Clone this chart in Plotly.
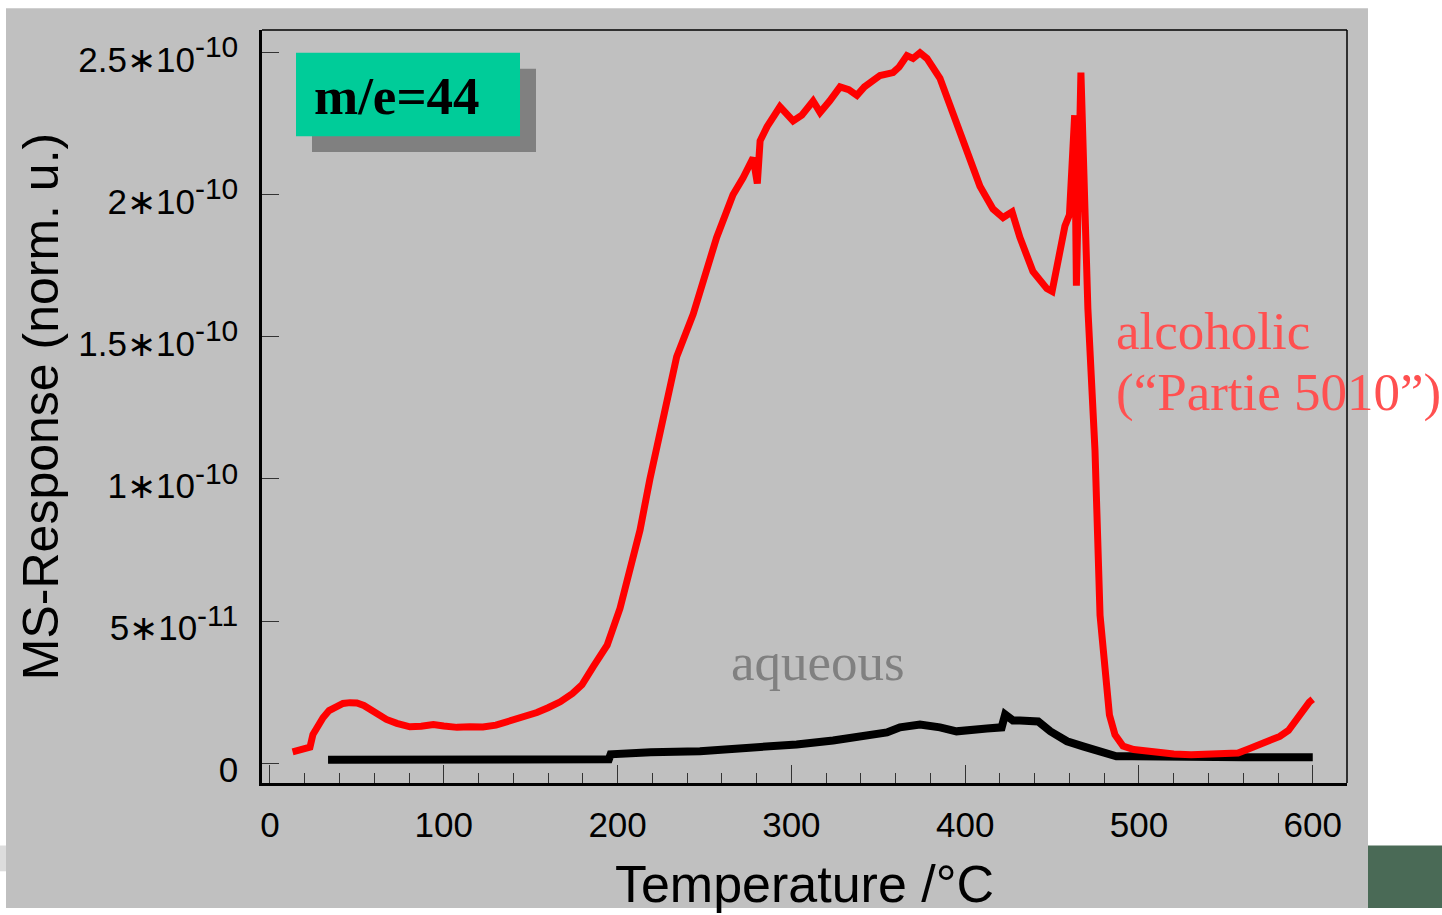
import plotly.graph_objects as go

# ---------------- data ----------------
# MS response in units of 1e-10 (norm. u.)
alcoholic_temp = [13, 18, 23, 24.7, 27, 30.5, 34, 38.5, 42, 46, 50, 54, 57.5, 62, 67, 73, 80.5, 87, 94, 100,
                  107.6, 115, 122.5, 130, 138, 146, 153.6, 160, 167, 174, 179.5, 186, 194, 201.4, 207, 212.9,
                  218.6, 224.4, 228.4, 234, 243.5, 247.4, 255, 257, 262, 266.4, 272.2, 278, 280.4, 282, 286,
                  293.4, 301, 306, 312.5, 316.5, 322, 328, 333, 337.7, 342, 347, 351, 358.5, 362, 366.5, 370,
                  374, 378, 385.5, 393, 401, 408.5, 416, 421.8, 427, 431.5, 439, 447, 450, 453, 457.4, 460,
                  463, 464, 466.6, 470.6, 474.7, 477.6, 480.4, 483, 486.2, 490.8, 497, 504.6, 512, 520, 530,
                  540, 550, 557, 563, 570, 576, 581, 586, 590, 594, 598, 600]
alcoholic_ms_e10 = [0.040, 0.050, 0.056, 0.101, 0.125, 0.160, 0.185, 0.200, 0.210, 0.213, 0.212, 0.203, 0.190,
                    0.172, 0.154, 0.140, 0.128, 0.130, 0.136, 0.131, 0.126, 0.128, 0.127, 0.134, 0.147, 0.160,
                    0.178, 0.195, 0.216, 0.245, 0.276, 0.340, 0.415, 0.545, 0.670, 0.820, 1.000, 1.160, 1.290,
                    1.430, 1.580, 1.660, 1.810, 1.850, 1.930, 2.000, 2.060, 2.130, 2.040, 2.190, 2.240, 2.310,
                    2.260, 2.280, 2.330, 2.290, 2.330, 2.380, 2.370, 2.350, 2.380, 2.400, 2.420, 2.430, 2.450,
                    2.490, 2.480, 2.500, 2.480, 2.410, 2.290, 2.160, 2.030, 1.950, 1.920, 1.940, 1.850, 1.730,
                    1.670, 1.660, 1.750, 1.890, 1.930, 2.280, 1.680, 2.430, 1.600, 1.100, 0.520, 0.300, 0.170,
                    0.100, 0.060, 0.048, 0.042, 0.036, 0.032, 0.030, 0.030, 0.032, 0.036, 0.050, 0.068, 0.080,
                    0.094, 0.115, 0.150, 0.180, 0.215, 0.225]

aqueous_temp = [33.4, 60, 100, 150, 195, 196, 218, 219, 247.4, 266.4, 287.7, 303, 324, 343.5, 355, 362.5,
                374, 385.5, 395, 412.5, 421, 423, 427.5, 431.5, 442, 449, 458.6, 467.8, 477.6, 487, 496.5,
                520, 560, 600]
aqueous_ms_e10 = [0.012, 0.013, 0.012, 0.014, 0.014, 0.031, 0.031, 0.038, 0.042, 0.049, 0.056, 0.066, 0.080,
                  0.094, 0.108, 0.126, 0.136, 0.126, 0.112, 0.122, 0.126, 0.171, 0.150, 0.150, 0.147, 0.112,
                  0.077, 0.059, 0.042, 0.024, 0.024, 0.021, 0.021, 0.021]

y_tick_vals = [0, 0.5, 1.0, 1.5, 2.0, 2.5]
y_tick_text = ["0",
               "5\u221710<sup><span style='font-size:30px'>-11</span></sup>",
               "1\u221710<sup><span style='font-size:30px'>-10</span></sup>",
               "1.5\u221710<sup><span style='font-size:30px'>-10</span></sup>",
               "2\u221710<sup><span style='font-size:30px'>-10</span></sup>",
               "2.5\u221710<sup><span style='font-size:30px'>-10</span></sup>"]

# ---------------- layout geometry (pixels) ----------------
W, H = 1442, 915
L, R, T, B = 262, 1347, 30, 789


def px_x(p):
    return (p - L) / (R - L)


def px_y(p):
    return (B - p) / (B - T)


SANS = "Liberation Sans, Arial, sans-serif"
SERIF = "Liberation Serif, Times New Roman, serif"

fig = go.Figure()
fig.add_trace(go.Scatter(x=aqueous_temp, y=aqueous_ms_e10, mode="lines",
                         line=dict(color="#000000", width=8), name="aqueous"))
fig.add_trace(go.Scatter(x=alcoholic_temp, y=alcoholic_ms_e10, mode="lines",
                         line=dict(color="#FF0000", width=7), name="alcoholic"))

shapes = [
    # grey slide background
    dict(type="rect", xref="paper", yref="paper", x0=px_x(6), x1=px_x(1368), y0=px_y(915), y1=px_y(8),
         fillcolor="#C0C0C0", line=dict(width=0), layer="below"),
    dict(type="rect", xref="paper", yref="paper", x0=px_x(0), x1=px_x(6), y0=px_y(878), y1=px_y(852),
         fillcolor="#DCDCDC", line=dict(width=0), layer="below"),
    dict(type="rect", xref="paper", yref="paper", x0=px_x(1368), x1=px_x(1442), y0=px_y(915), y1=px_y(852),
         fillcolor="#4A6A56", line=dict(width=0), layer="below"),
    # frame top / right
    dict(type="line", xref="paper", yref="paper", x0=0, x1=1, y0=1, y1=1, line=dict(color="#000000", width=1.5)),
    dict(type="line", xref="paper", yref="paper", x0=1, x1=1, y0=0, y1=1, line=dict(color="#000000", width=1.5)),
    # label box with shadow
    dict(type="rect", xref="paper", yref="paper", x0=px_x(312), x1=px_x(536), y0=px_y(153), y1=px_y(69),
         fillcolor="#808080", line=dict(width=0)),
    dict(type="rect", xref="paper", yref="paper", x0=px_x(296), x1=px_x(520), y0=px_y(137), y1=px_y(53),
         fillcolor="#00CC99", line=dict(width=0)),
]

annotations = [
    dict(text="<b>m/e=44</b>", xref="paper", yref="paper", x=px_x(397), y=px_y(97), xanchor="center",
         yanchor="middle", showarrow=False, font=dict(family=SERIF, size=53, color="#000000")),
    dict(text="alcoholic", xref="paper", yref="paper", x=px_x(1114), y=px_y(333),
         xanchor="left", yanchor="middle", align="left", showarrow=False,
         font=dict(family=SERIF, size=53, color="#FF5050")),
    dict(text="(\u201cPartie 5010\u201d)", xref="paper", yref="paper", x=px_x(1114), y=px_y(395),
         xanchor="left", yanchor="middle", align="left", showarrow=False,
         font=dict(family=SERIF, size=53, color="#FF5050")),
    dict(text="aqueous", xref="paper", yref="paper", x=px_x(729), y=px_y(667), xanchor="left",
         yanchor="middle", showarrow=False, font=dict(family=SERIF, size=53, color="#808080")),
]

fig.update_layout(
    width=W, height=H,
    margin=dict(l=L, r=W - R, t=T, b=H - B, pad=0),
    paper_bgcolor="#FFFFFF", plot_bgcolor="#C0C0C0",
    showlegend=False,
    shapes=shapes, annotations=annotations,
    font=dict(family=SANS, color="#000000"),
)

fig.update_xaxes(
    range=[-4.6, 619.7], showgrid=False, zeroline=False,
    showline=True, linecolor="#000000", linewidth=2.5,
    ticks="inside", ticklen=18, tickwidth=1, tickcolor="#333333",
    tick0=0, dtick=100,
    minor=dict(dtick=20, tick0=0, ticks="inside", ticklen=10, tickwidth=1, tickcolor="#333333"),
    tickfont=dict(family=SANS, size=35, color="#000000"),
    ticklabelstandoff=9,
    title=dict(text="Temperature /\u00b0C", font=dict(family=SANS, size=52, color="#000000"), standoff=23),
)
fig.update_yaxes(
    range=[-0.0698, 2.580], showgrid=False, zeroline=False,
    showline=True, linecolor="#000000", linewidth=2.5,
    ticks="inside", ticklen=17, tickwidth=1, tickcolor="#333333",
    tickvals=y_tick_vals, ticktext=y_tick_text,
    tickfont=dict(family=SANS, size=35, color="#000000"),
    ticklabelstandoff=14, ticklabelshift=7,
    title=dict(text="MS-Response (norm. u.)", font=dict(family=SANS, size=50, color="#000000"), standoff=4),
)

fig.write_html("out.html")
